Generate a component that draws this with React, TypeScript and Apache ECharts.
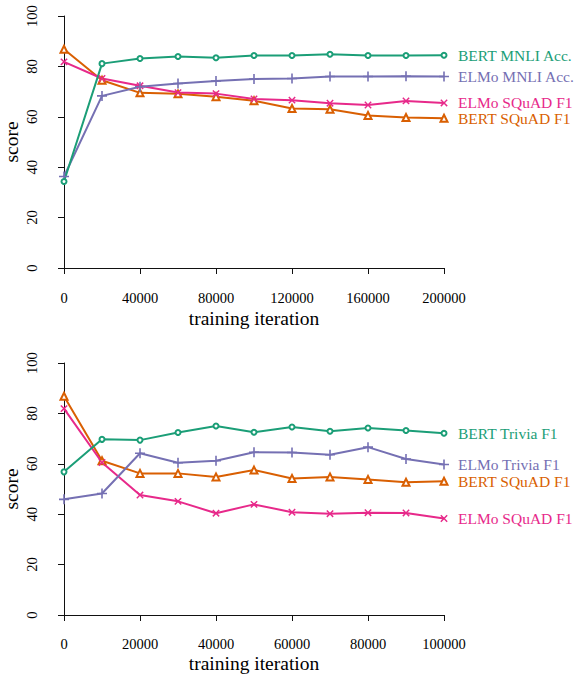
import React, { useEffect, useRef } from "react";
import * as echarts from "echarts";

const GREEN = "#1B9E77";
const ORANGE = "#D95F02";
const PURPLE = "#7570B3";
const PINK = "#E7298A";

const topIterations = [0, 20000, 40000, 60000, 80000, 100000, 120000, 140000, 160000, 180000, 200000];
const bertMnliAcc = [34.3, 81.1, 83.1, 83.9, 83.4, 84.3, 84.3, 84.8, 84.3, 84.3, 84.4];
const elmoMnliAcc = [36.3, 68.3, 71.9, 73.2, 74.2, 75.0, 75.2, 76.0, 76.0, 76.1, 76.0];
const elmoSquadTop = [81.8, 75.2, 72.3, 69.6, 69.2, 67.1, 66.6, 65.4, 64.7, 66.3, 65.5];
const bertSquadTop = [86.8, 74.5, 69.5, 69.1, 68.0, 66.4, 63.3, 63.0, 60.5, 59.7, 59.4];

const bottomIterations = [0, 10000, 20000, 30000, 40000, 50000, 60000, 70000, 80000, 90000, 100000];
const bertTriviaF1 = [56.8, 69.7, 69.4, 72.4, 75.0, 72.5, 74.6, 72.9, 74.2, 73.2, 72.1];
const elmoTriviaF1 = [45.9, 48.2, 64.2, 60.4, 61.2, 64.6, 64.5, 63.6, 66.6, 61.9, 59.7];
const bertSquadBottom = [86.8, 61.2, 56.2, 56.2, 54.8, 57.5, 54.2, 54.8, 53.8, 52.7, 53.1];
const elmoSquadBottom = [81.9, 60.5, 47.6, 45.1, 40.4, 43.9, 40.8, 40.2, 40.6, 40.5, 38.3];

const X_TITLE = "training iteration";
const Y_TITLE = "score";

const PLUS = "path://M4.2,0H5.8V4.2H10V5.8H5.8V10H4.2V5.8H0V4.2H4.2Z";
const FONT = "'Liberation Serif', 'DejaVu Serif', serif";

function pair(xs: number[], ys: number[]) {
  return xs.map((x, i) => [x, ys[i]]);
}

function mk(name: string, xs: number[], ys: number[], color: string, kind: string, idx: number) {
  let symbol: string = "emptyCircle";
  let symbolSize: number = 5;
  let symbolRotate = 0;
  if (kind === "tri") { symbol = "emptyTriangle"; symbolSize = 7; }
  if (kind === "plus") { symbol = PLUS; symbolSize = 10; }
  if (kind === "x") { symbol = PLUS; symbolSize = 9; symbolRotate = 45; }
  return {
    type: "line",
    name,
    xAxisIndex: idx,
    yAxisIndex: idx,
    data: pair(xs, ys),
    symbol,
    symbolSize,
    symbolRotate,
    showAllSymbol: true,
    clip: false,
    lineStyle: { color, width: 2 },
    itemStyle: { color, borderColor: color, borderWidth: kind === "circle" || kind === "tri" ? 1.6 : 0 },
    endLabel: {
      show: true,
      formatter: "{a}",
      distance: 14,
      color,
      fontFamily: FONT,
      fontSize: 15.5,
    },
  };
}

function xAxis(idx: number, max: number, interval: number, offset: number) {
  return {
    type: "value",
    gridIndex: idx,
    min: 0,
    max,
    interval,
    offset,
    axisLine: { show: true, lineStyle: { color: "#111", width: 1 } },
    axisTick: { show: true, length: 6, lineStyle: { color: "#111" } },
    axisLabel: {
      fontFamily: FONT,
      fontSize: 14.5,
      color: "#000",
      margin: 11,
      formatter: (v: number) => String(v),
    },
    splitLine: { show: false },
  };
}

function yAxis(idx: number) {
  return {
    type: "value",
    gridIndex: idx,
    min: 0,
    max: 100,
    interval: 20,
    offset: 15,
    axisLine: { show: true, lineStyle: { color: "#111", width: 1 } },
    axisTick: { show: true, length: 6, lineStyle: { color: "#111" } },
    axisLabel: { fontFamily: FONT, fontSize: 14.5, color: "#000", rotate: 90, margin: 10 },
    splitLine: { show: false },
  };
}

function title(text: string, x: number, y: number, rotation: number) {
  return {
    type: "text",
    x,
    y,
    rotation,
    style: {
      text,
      fontFamily: FONT,
      fontSize: 19.5,
      fill: "#000",
      align: "center",
      verticalAlign: "middle",
    },
  };
}

export default function App() {
  const ref = useRef<HTMLDivElement>(null);
  useEffect(() => {
    document.body.style.margin = "0";
    const chart = echarts.init(ref.current!, null, { renderer: "svg" });
    chart.setOption({
      animation: false,
      backgroundColor: "#fff",
      grid: [
        { left: 64, top: 16, width: 380, height: 252, containLabel: false, outerBoundsMode: "none" },
        { left: 64, top: 363, width: 380, height: 252, containLabel: false, outerBoundsMode: "none" },
      ],
      xAxis: [xAxis(0, 200000, 40000, 11), xAxis(1, 100000, 20000, 10)],
      yAxis: [yAxis(0), yAxis(1)],
      graphic: [
        title(Y_TITLE, 11, 142, Math.PI / 2),
        title(Y_TITLE, 11, 489, Math.PI / 2),
        title(X_TITLE, 254, 318, 0),
        title(X_TITLE, 254, 663, 0),
      ],
      series: [
        mk("BERT SQuAD F1", topIterations, bertSquadTop, ORANGE, "tri", 0),
        mk("ELMo SQuAD F1", topIterations, elmoSquadTop, PINK, "x", 0),
        mk("ELMo MNLI Acc.", topIterations, elmoMnliAcc, PURPLE, "plus", 0),
        mk("BERT MNLI Acc.", topIterations, bertMnliAcc, GREEN, "circle", 0),
        mk("BERT SQuAD F1", bottomIterations, bertSquadBottom, ORANGE, "tri", 1),
        mk("ELMo SQuAD F1", bottomIterations, elmoSquadBottom, PINK, "x", 1),
        mk("ELMo Trivia F1", bottomIterations, elmoTriviaF1, PURPLE, "plus", 1),
        mk("BERT Trivia F1", bottomIterations, bertTriviaF1, GREEN, "circle", 1),
      ],
    });
    return () => chart.dispose();
  }, []);
  return <div ref={ref} style={{ width: 574, height: 676, position: "absolute", left: 0, top: 0 }} />;
}
